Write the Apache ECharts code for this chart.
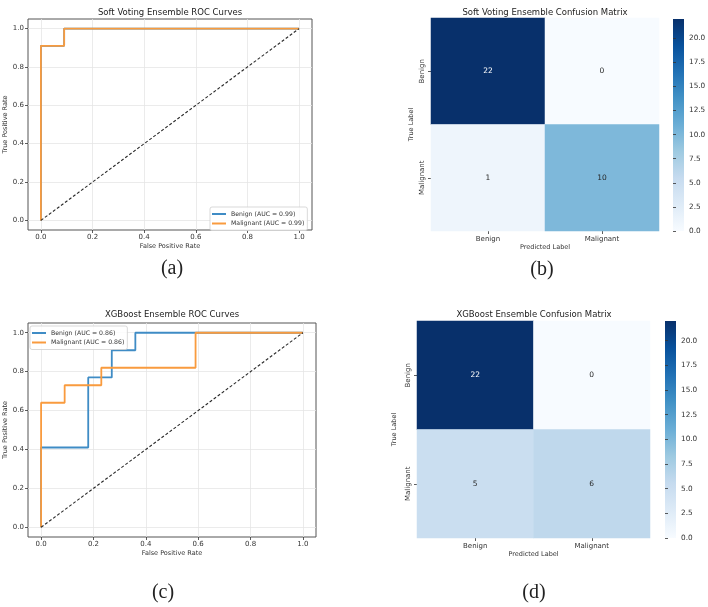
<!DOCTYPE html>
<html>
<head>
<meta charset="utf-8">
<script src="https://cdn.jsdelivr.net/npm/echarts@6/dist/echarts.min.js"></script>
<style>
html, body { margin: 0; padding: 0; background: #fff; }
#chart { width: 708px; height: 607px; }
</style>
</head>
<body>
<div id="chart"></div>
<script>
// ROC points (fpr / tpr)
const softBenignFpr = [0, 0, 0.09, 0.09, 1];
const softBenignTpr = [0, 0.91, 0.91, 1, 1];
const softMalignantFpr = [0, 0, 0.09, 0.09, 1];
const softMalignantTpr = [0, 0.91, 0.91, 1, 1];
const xgbBenignFpr = [0, 0, 0.18, 0.18, 0.27, 0.27, 0.36, 0.36, 1];
const xgbBenignTpr = [0, 0.41, 0.41, 0.77, 0.77, 0.91, 0.91, 1, 1];
const xgbMalignantFpr = [0, 0, 0.09, 0.09, 0.23, 0.23, 0.59, 0.59, 1];
const xgbMalignantTpr = [0, 0.64, 0.64, 0.73, 0.73, 0.82, 0.82, 1, 1];
const chanceLine = [0, 1];
const softAuc = [0.99, 0.99];
const xgbAuc = [0.86, 0.86];
const rocTicks = [0, 0.2, 0.4, 0.6, 0.8, 1.0];

// confusion matrices: rows = true label, cols = predicted label
const classes = ['Benign', 'Malignant'];
const softCm = [[22, 0], [1, 10]];
const xgbCm = [[22, 0], [5, 6]];
const cbarMax = 22;
const cbarTicks = [0, 2.5, 5, 7.5, 10, 12.5, 15, 17.5, 20];

const FONT = 'DejaVu Sans';
const BLUE = '#3f8cc5';
const ORANGE = '#f99b3e';
const BLUES = ['#f7fbff', '#deebf7', '#c6dbef', '#9ecae1', '#6baed6', '#4292c6', '#2171b5', '#08519c', '#08306b'];

const chart = echarts.init(document.getElementById('chart'));

function zipXY(xs, ys) {
  return xs.map((x, i) => [x, ys[i]]);
}

function rocX(gridIndex) {
  return {
    gridIndex: gridIndex,
    type: 'value',
    min: -0.05,
    max: 1.05,
    axisLine: { show: false, onZero: false },
    axisTick: { show: true, customValues: rocTicks, length: 3, lineStyle: { color: '#333', width: 0.8 } },
    axisLabel: { customValues: rocTicks, formatter: v => v.toFixed(1), fontSize: 7, color: '#333', margin: 4, fontFamily: FONT },
    splitLine: { show: true, lineStyle: { color: '#e6e6e6', width: 0.8 } },
    name: 'False Positive Rate',
    nameLocation: 'middle',
    nameGap: 13,
    nameTextStyle: { fontSize: 6.5, color: '#333', fontFamily: FONT }
  };
}

function rocY(gridIndex) {
  return {
    gridIndex: gridIndex,
    type: 'value',
    min: -0.05,
    max: 1.05,
    axisLine: { show: false, onZero: false },
    axisTick: { show: true, customValues: rocTicks, length: 3, lineStyle: { color: '#333', width: 0.8 } },
    axisLabel: { customValues: rocTicks, formatter: v => v.toFixed(1), fontSize: 7, color: '#333', margin: 4, fontFamily: FONT },
    splitLine: { show: true, lineStyle: { color: '#e6e6e6', width: 0.8 } },
    name: 'True Positive Rate',
    nameLocation: 'middle',
    nameGap: 18,
    nameTextStyle: { fontSize: 6.5, color: '#333', fontFamily: FONT }
  };
}

function heatX(gridIndex) {
  return {
    gridIndex: gridIndex,
    type: 'category',
    data: classes,
    axisLine: { show: false },
    axisTick: { show: true, alignWithLabel: true, length: 3, lineStyle: { color: '#333', width: 0.8 } },
    axisLabel: { fontSize: 7, color: '#333', margin: 5, fontFamily: FONT },
    splitLine: { show: false },
    name: 'Predicted Label',
    nameLocation: 'middle',
    nameGap: 13,
    nameTextStyle: { fontSize: 6.5, color: '#333', fontFamily: FONT }
  };
}

function heatY(gridIndex, gap) {
  return {
    gridIndex: gridIndex,
    type: 'category',
    data: classes,
    inverse: true,
    axisLine: { show: false },
    axisTick: { show: true, alignWithLabel: true, length: 3, lineStyle: { color: '#333', width: 0.8 } },
    axisLabel: { fontSize: 7, color: '#333', margin: 5, rotate: 90, fontFamily: FONT },
    splitLine: { show: false },
    name: 'True Label',
    nameLocation: 'middle',
    nameGap: gap,
    nameTextStyle: { fontSize: 6.5, color: '#333', fontFamily: FONT }
  };
}

function cbarX(gridIndex) {
  return { gridIndex: gridIndex, type: 'value', show: false };
}

function cbarY(gridIndex) {
  return {
    gridIndex: gridIndex,
    type: 'value',
    position: 'right',
    min: 0,
    max: cbarMax,
    axisLine: { show: false },
    axisTick: { show: true, customValues: cbarTicks, length: 3, lineStyle: { color: '#333', width: 0.8 } },
    axisLabel: { customValues: cbarTicks, formatter: v => v.toFixed(1), fontSize: 7.3, color: '#333', margin: 5, fontFamily: FONT },
    splitLine: { show: false }
  };
}

function cmData(cm) {
  const out = [];
  cm.forEach((row, r) => {
    row.forEach((v, c) => {
      out.push({
        value: [c, r, v],
        label: { color: v > cbarMax / 2 ? '#ffffff' : '#262626' }
      });
    });
  });
  return out;
}

function rocSeries(name, xIdx, color, pts) {
  return {
    name: name,
    type: 'line',
    xAxisIndex: xIdx,
    yAxisIndex: xIdx,
    data: pts,
    symbol: 'none',
    itemStyle: { color: color },
    lineStyle: { color: color, width: 1.8 },
    silent: true,
    z: 3
  };
}

function chanceSeries(xIdx) {
  return {
    type: 'line',
    xAxisIndex: xIdx,
    yAxisIndex: xIdx,
    data: zipXY(chanceLine, chanceLine),
    symbol: 'none',
    lineStyle: { color: '#2a2a2a', width: 1.1, type: [3, 2] },
    silent: true,
    z: 4
  };
}

function heatSeries(xIdx, cm) {
  return {
    type: 'heatmap',
    xAxisIndex: xIdx,
    yAxisIndex: xIdx,
    data: cmData(cm),
    label: { show: true, fontSize: 7.5, fontFamily: FONT, formatter: p => p.value[2] },
    emphasis: { disabled: true },
    silent: true
  };
}

function rocLegend(names, left, top) {
  return {
    data: names,
    left: left,
    top: top,
    orient: 'vertical',
    padding: [3, 3, 3, 2],
    itemGap: 1.5,
    itemWidth: 14,
    itemHeight: 2,
    icon: 'rect',
    selectedMode: false,
    borderColor: '#cfcfcf',
    borderWidth: 0.8,
    borderRadius: 2,
    backgroundColor: 'rgba(255,255,255,0.85)',
    textStyle: { fontSize: 6.2, color: '#333', fontFamily: FONT, lineHeight: 8 }
  };
}

// colour bar drawn as a gradient rect over the colour-bar grid area
function colorBar(left, top, width, height) {
  const stops = BLUES.map((c, i) => ({ offset: 1 - i / (BLUES.length - 1), color: c }));
  return {
    type: 'rect',
    shape: { x: left, y: top, width: width, height: height },
    style: { fill: new echarts.graphic.LinearGradient(0, 0, 0, 1, stops.reverse()) },
    silent: true
  };
}

function caption(text, x, y, size, family) {
  return {
    type: 'text',
    x: x,
    y: y,
    style: {
      text: text,
      fill: '#222',
      font: size + 'px "' + family + '"',
      textAlign: 'center',
      textVerticalAlign: 'middle'
    },
    silent: true
  };
}

const softNames = ['Benign (AUC = ' + softAuc[0].toFixed(2) + ')', 'Malignant (AUC = ' + softAuc[1].toFixed(2) + ')'];
const xgbNames = ['Benign (AUC = ' + xgbAuc[0].toFixed(2) + ')', 'Malignant (AUC = ' + xgbAuc[1].toFixed(2) + ')'];

chart.setOption({
  animation: false,
  grid: [
    { left: 28, top: 19, width: 284, height: 211, show: true, borderColor: '#555', borderWidth: 1, backgroundColor: 'transparent', outerBoundsMode: 'none' },
    { left: 431, top: 18, width: 228, height: 213, outerBoundsMode: 'none' },
    { left: 673, top: 19, width: 11, height: 212, outerBoundsMode: 'none' },
    { left: 28, top: 323, width: 288, height: 214, show: true, borderColor: '#555', borderWidth: 1, backgroundColor: 'transparent', outerBoundsMode: 'none' },
    { left: 417, top: 321, width: 233, height: 217, outerBoundsMode: 'none' },
    { left: 665, top: 321, width: 11, height: 217, outerBoundsMode: 'none' }
  ],
  xAxis: [rocX(0), heatX(1), cbarX(2), rocX(3), heatX(4), cbarX(5)],
  yAxis: [rocY(0), heatY(1, 16), cbarY(2), rocY(3), heatY(4, 19), cbarY(5)],
  visualMap: [
    { type: 'continuous', show: false, seriesIndex: 3, min: 0, max: cbarMax, inRange: { color: BLUES } },
    { type: 'continuous', show: false, seriesIndex: 7, min: 0, max: cbarMax, inRange: { color: BLUES } }
  ],
  legend: [
    rocLegend(softNames, 210, 207),
    rocLegend(xgbNames, 30, 326)
  ],
  series: [
    rocSeries(softNames[0], 0, BLUE, zipXY(softBenignFpr, softBenignTpr)),
    rocSeries(softNames[1], 0, ORANGE, zipXY(softMalignantFpr, softMalignantTpr)),
    chanceSeries(0),
    heatSeries(1, softCm),
    rocSeries(xgbNames[0], 3, BLUE, zipXY(xgbBenignFpr, xgbBenignTpr)),
    rocSeries(xgbNames[1], 3, ORANGE, zipXY(xgbMalignantFpr, xgbMalignantTpr)),
    chanceSeries(3),
    heatSeries(4, xgbCm)
  ],
  graphic: [
    colorBar(673, 19, 11, 212),
    colorBar(665, 321, 11, 217),
    caption('Soft Voting Ensemble ROC Curves', 170, 13, 8.5, FONT),
    caption('Soft Voting Ensemble Confusion Matrix', 545, 13, 8.5, FONT),
    caption('XGBoost Ensemble ROC Curves', 172, 315, 8.5, FONT),
    caption('XGBoost Ensemble Confusion Matrix', 534, 315, 8.5, FONT),
    caption('(a)', 172, 269, 20, 'Liberation Serif'),
    caption('(b)', 542, 270, 20, 'Liberation Serif'),
    caption('(c)', 163, 593, 20, 'Liberation Serif'),
    caption('(d)', 534, 593, 20, 'Liberation Serif')
  ]
});
</script>
</body>
</html>
